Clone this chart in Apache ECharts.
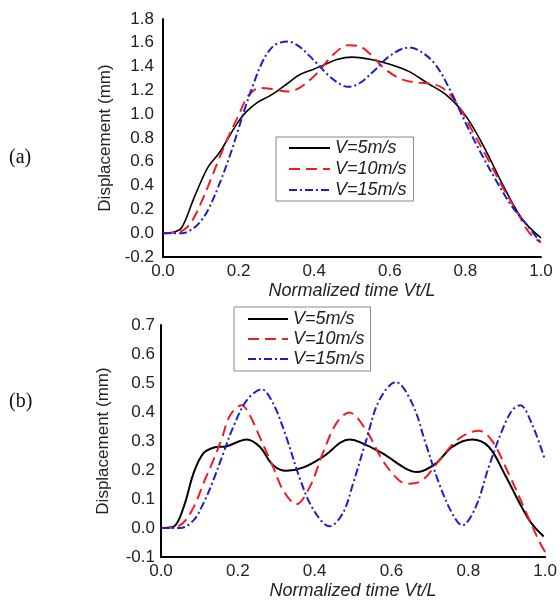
<!DOCTYPE html>
<html>
<head>
<meta charset="utf-8">
<script src="https://cdn.jsdelivr.net/npm/echarts@6/dist/echarts.min.js"></script>
<style>
  html, body { margin: 0; padding: 0; background: #fff; }
  #chart { width: 560px; height: 602px; }
</style>
</head>
<body>
<div id="chart"></div>
<script>
// series names
const names = ['V=5m/s', 'V=10m/s', 'V=15m/s']

// (a) displacement vs normalized time, [t, mm]
const a5 = [[0,0],[0.03,0.01],[0.05,0.05],[0.08,0.28],[0.1,0.43],[0.12,0.56],[0.15,0.68],[0.18,0.84],[0.2,0.94],[0.22,1.02],[0.25,1.10],[0.28,1.15],[0.3,1.19],[0.33,1.26],[0.36,1.33],[0.4,1.38],[0.43,1.42],[0.46,1.46],[0.5,1.48],[0.55,1.46],[0.6,1.42],[0.65,1.36],[0.7,1.26],[0.75,1.16],[0.8,0.99],[0.85,0.72],[0.9,0.40],[0.95,0.12],[1.0,-0.04]]
const a10 = [[0,0],[0.04,0.01],[0.06,0.04],[0.08,0.12],[0.1,0.25],[0.12,0.4],[0.15,0.64],[0.18,0.86],[0.2,0.99],[0.22,1.13],[0.24,1.2],[0.26,1.22],[0.29,1.21],[0.33,1.19],[0.36,1.22],[0.4,1.32],[0.42,1.39],[0.45,1.5],[0.49,1.58],[0.52,1.57],[0.55,1.5],[0.58,1.4],[0.62,1.31],[0.66,1.27],[0.7,1.26],[0.74,1.22],[0.78,1.08],[0.82,0.85],[0.86,0.62],[0.9,0.38],[0.94,0.16],[0.97,0.0],[1.0,-0.08]]
const a15 = [[0,0],[0.05,0.0],[0.08,0.04],[0.1,0.1],[0.12,0.2],[0.15,0.42],[0.18,0.68],[0.2,0.88],[0.22,1.08],[0.24,1.26],[0.26,1.42],[0.28,1.53],[0.3,1.59],[0.33,1.61],[0.36,1.57],[0.4,1.45],[0.44,1.32],[0.47,1.25],[0.49,1.23],[0.52,1.26],[0.56,1.37],[0.6,1.49],[0.65,1.56],[0.68,1.53],[0.72,1.42],[0.76,1.2],[0.8,0.93],[0.84,0.68],[0.88,0.45],[0.92,0.24],[0.96,0.08],[1.0,-0.08]]

// (b)
const b5 = [[0,0],[0.033,0.005],[0.059,0.072],[0.085,0.19],[0.11,0.257],[0.136,0.277],[0.171,0.282],[0.223,0.305],[0.257,0.28],[0.292,0.216],[0.326,0.197],[0.369,0.208],[0.421,0.245],[0.49,0.305],[0.516,0.297],[0.577,0.257],[0.637,0.205],[0.667,0.193],[0.715,0.222],[0.758,0.28],[0.81,0.305],[0.853,0.28],[0.896,0.182],[0.939,0.072],[0.965,0.015],[0.996,-0.029]]
const b10 = [[0,0],[0.05,0.01],[0.085,0.072],[0.11,0.153],[0.136,0.233],[0.158,0.308],[0.18,0.389],[0.21,0.423],[0.231,0.389],[0.257,0.314],[0.292,0.21],[0.318,0.13],[0.352,0.082],[0.387,0.141],[0.421,0.257],[0.456,0.36],[0.49,0.398],[0.534,0.337],[0.577,0.233],[0.62,0.164],[0.646,0.153],[0.68,0.164],[0.724,0.233],[0.775,0.308],[0.827,0.335],[0.861,0.302],[0.905,0.187],[0.948,0.061],[0.983,-0.042],[1.0,-0.083]]
const b15 = [[0,0],[0.05,0.0],[0.085,0.027],[0.11,0.084],[0.136,0.164],[0.162,0.257],[0.188,0.348],[0.223,0.44],[0.262,0.478],[0.292,0.429],[0.326,0.314],[0.36,0.176],[0.395,0.067],[0.439,0.006],[0.473,0.05],[0.5,0.153],[0.534,0.302],[0.568,0.44],[0.611,0.503],[0.654,0.429],[0.689,0.291],[0.724,0.153],[0.758,0.05],[0.784,0.009],[0.819,0.072],[0.853,0.21],[0.888,0.337],[0.914,0.406],[0.935,0.423],[0.965,0.36],[1.0,0.233]]

const font = 'Liberation Sans, Arial, sans-serif'
const styles = [
  { color: '#000000', width: 1.6, type: 'solid' },
  { color: '#ee1c25', width: 2, type: [11, 6] },
  { color: '#1c1fc8', width: 2, type: [8, 3, 2, 3] }
]

function xAxis (gridIndex) {
  return {
    type: 'value', gridIndex, min: 0, max: 1, interval: 0.2,
    name: 'Normalized time Vt/L', nameLocation: 'middle', nameGap: 25,
    nameTextStyle: { fontFamily: font, fontSize: 18, fontStyle: 'italic', color: '#222' },
    axisLine: { onZero: false, lineStyle: { color: '#000', width: 2 } },
    axisTick: { show: false },
    splitLine: { show: false },
    axisLabel: { margin: 6, fontFamily: font, fontSize: 17, color: '#222', formatter: v => v.toFixed(1) }
  }
}
function yAxis (gridIndex, min, max, interval, margin) {
  return {
    type: 'value', gridIndex, min, max, interval,
    name: 'Displacement (mm)', nameLocation: 'middle', nameGap: 49,
    nameTextStyle: { fontFamily: font, fontSize: 17, color: '#222' },
    axisLine: { show: true, onZero: false, lineStyle: { color: '#000', width: 2 } },
    axisTick: { show: false },
    splitLine: { show: false },
    axisLabel: { margin, fontFamily: font, fontSize: 17, color: '#222', formatter: v => v.toFixed(1) }
  }
}
function line (name, data, idx, s) {
  return {
    name, type: 'line', data, xAxisIndex: idx, yAxisIndex: idx,
    smooth: 0.35, symbol: 'none', silent: true, animation: false,
    lineStyle: { color: s.color, width: s.width, type: s.type },
    itemStyle: { color: s.color }
  }
}
function legend (left, top, gap, width, padding) {
  return {
    orient: 'vertical', left, top, data: names,
    itemWidth: width, itemHeight: 18, itemGap: gap,
    padding,
    borderColor: '#888', borderWidth: 1,
    selectedMode: false,
    itemStyle: { opacity: 0 },
    textStyle: { fontFamily: font, fontSize: 18, fontStyle: 'italic', color: '#222' }
  }
}

const chart = echarts.init(document.getElementById('chart'), null, { renderer: 'canvas' })
chart.setOption({
  backgroundColor: '#fff',
  animation: false,
  grid: [
    { left: 163, top: 19, width: 378, height: 238 },
    { left: 161, top: 325, width: 386, height: 232 }
  ],
  xAxis: [xAxis(0), xAxis(1)],
  yAxis: [yAxis(0, -0.2, 1.8, 0.2, 9), yAxis(1, -0.1, 0.7, 0.1, 6)],
  legend: [
    legend(276, 137, 3, 41, [2, 7, 2, 12]),
    legend(234, 307, 2, 40, [3, 6, 3, 13])
  ],
  graphic: [
    { type: 'text', left: 9, top: 148, style: { text: '(a)', font: '20px Liberation Serif', fill: '#111' } },
    { type: 'text', left: 9, top: 392, style: { text: '(b)', font: '20px Liberation Serif', fill: '#111' } }
  ],
  series: [
    line(names[0], a5, 0, styles[0]),
    line(names[1], a10, 0, styles[1]),
    line(names[2], a15, 0, styles[2]),
    line(names[0], b5, 1, Object.assign({}, styles[0], { width: 2 })),
    line(names[1], b10, 1, styles[1]),
    line(names[2], b15, 1, styles[2])
  ]
})
</script>
</body>
</html>
